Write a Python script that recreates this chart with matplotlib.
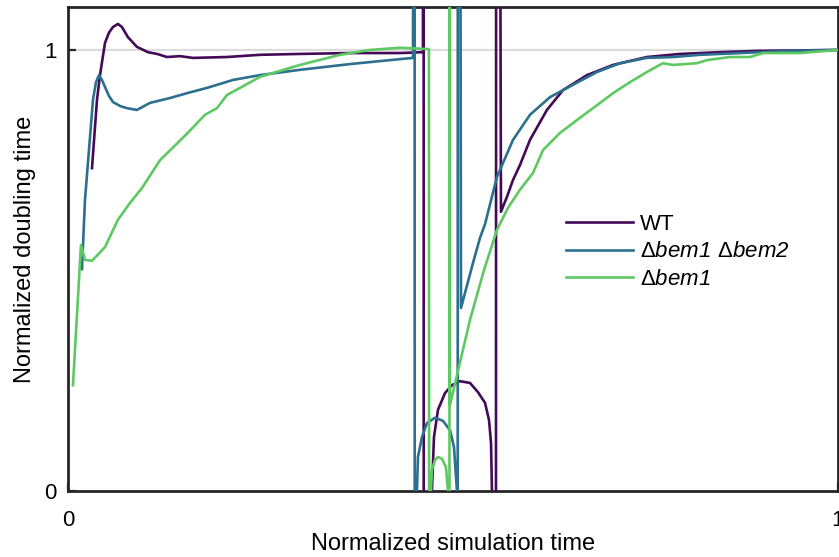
import numpy as np
import matplotlib.pyplot as plt

plt.rcParams['font.family'] = ['Liberation Sans', 'DejaVu Sans']
plt.rcParams['mathtext.fontset'] = 'custom'
plt.rcParams['mathtext.rm'] = 'Liberation Sans'
plt.rcParams['mathtext.sf'] = 'Liberation Sans:italic'

# values; +/-5 marks a jump through the asymptote
wt_x = [0.0312, 0.0377, 0.0416, 0.0481, 0.0532, 0.0584, 0.0649, 0.0701, 0.0779, 0.0896,
        0.1039, 0.1156, 0.1286, 0.1455, 0.1623, 0.2065, 0.2494, 0.3013, 0.3662, 0.4312,
        0.4610, 0.4617, 0.4623, 0.4727, 0.4753, 0.4805, 0.4896, 0.4987, 0.5091, 0.5221,
        0.5325, 0.5416, 0.5468, 0.5494, 0.5506, 0.5552, 0.5565, 0.5623, 0.5701, 0.5779,
        0.5870, 0.6000, 0.6220, 0.6429, 0.6740, 0.7078, 0.7519, 0.7948, 0.8468, 0.8987,
        1.0]
wt_y = [0.732, 0.887, 0.943, 1.016, 1.039, 1.052, 1.059, 1.052, 1.029, 1.007,
        0.995, 0.991, 0.984, 0.986, 0.982, 0.984, 0.989, 0.991, 0.993, 0.993,
        0.995, 5, -5, 0.0, 0.122, 0.184, 0.222, 0.240, 0.249, 0.245,
        0.224, 0.200, 0.161, 0.109, 0.0, -5, 5, 0.633, 0.667, 0.705,
        0.739, 0.796, 0.864, 0.909, 0.943, 0.966, 0.984, 0.991, 0.995, 0.998,
        1.0]

bem12_x = [0.0182, 0.0221, 0.0325, 0.0364, 0.0403, 0.0442, 0.0481, 0.0532, 0.0584, 0.0675,
           0.0766, 0.0896, 0.1065, 0.1325, 0.1545, 0.1805, 0.2143, 0.2494, 0.3013, 0.3662,
           0.4182, 0.4481, 0.4500, 0.4506, 0.4532, 0.4545, 0.4597, 0.4662, 0.4766, 0.4870,
           0.4961, 0.5013, 0.5052, 0.5058, 0.5065, 0.5104, 0.5260, 0.5351, 0.5416, 0.5571,
           0.5779, 0.6000, 0.6260, 0.6558, 0.6870, 0.7169, 0.7519, 0.7857, 0.8208, 0.8727,
           0.9377, 1.0]
bem12_y = [0.503, 0.660, 0.887, 0.927, 0.943, 0.932, 0.916, 0.896, 0.882, 0.873,
           0.868, 0.864, 0.880, 0.891, 0.902, 0.914, 0.932, 0.943, 0.955, 0.968,
           0.977, 0.982, 5, -5, 0.0, 0.077, 0.122, 0.154, 0.166, 0.159,
           0.138, 0.100, 0.0, -5, 5, 0.415, 0.517, 0.574, 0.605, 0.712,
           0.796, 0.853, 0.893, 0.921, 0.950, 0.970, 0.982, 0.984, 0.989, 0.993,
           0.998, 1.0]

bem1_x = [0.0065, 0.0169, 0.0221, 0.0312, 0.0481, 0.0649, 0.0805, 0.0961, 0.1195, 0.1545,
          0.1779, 0.1935, 0.2065, 0.2234, 0.2494, 0.3013, 0.3532, 0.3922, 0.4312, 0.4688,
          0.4701, 0.4714, 0.4727, 0.4766, 0.4805, 0.4857, 0.4909, 0.4935, 0.4952, 0.4957,
          0.4961, 0.5221, 0.5403, 0.5571, 0.5714, 0.5870, 0.6039, 0.6169, 0.6390, 0.6610,
          0.6818, 0.7078, 0.7299, 0.7519, 0.7727, 0.7857, 0.8169, 0.8299, 0.8597, 0.8857,
          0.9026, 0.9506, 1.0]
bem1_y = [0.240, 0.558, 0.524, 0.522, 0.553, 0.615, 0.653, 0.687, 0.750, 0.810,
          0.853, 0.868, 0.898, 0.914, 0.939, 0.966, 0.989, 1.000, 1.005, 1.002,
          -5, 0.0, 0.048, 0.070, 0.077, 0.073, 0.054, 0.0, -5, 5,
          0.195, 0.388, 0.501, 0.592, 0.642, 0.683, 0.721, 0.773, 0.812, 0.841,
          0.868, 0.902, 0.927, 0.950, 0.970, 0.966, 0.970, 0.977, 0.984, 0.984,
          0.993, 0.993, 1.0]

c_wt = '#440a57'
c_bem12 = '#2c6f8f'
c_bem1 = '#5ec962'

fig = plt.figure(figsize=(8.39, 5.57), dpi=100)
ax = fig.add_axes([0.081, 0.1185, 0.9178, 0.869])

ax.axhline(1, color='#dcdcdc', lw=1.6, zorder=1)
ax.plot(wt_x, wt_y, color=c_wt, lw=1.9, label='WT', zorder=3)
ax.plot(bem12_x, bem12_y, color=c_bem12, lw=1.9,
        label=r'$\Delta\mathsf{bem1}\ \Delta\mathsf{bem2}$', zorder=3)
ax.plot(bem1_x, bem1_y, color=c_bem1, lw=1.9,
        label=r'$\Delta\mathsf{bem1}$', zorder=3)

ax.set_xlim(0, 1)
ax.set_ylim(0, 1.0975)
ax.set_xticks([0, 1])
ax.set_yticks([0, 1])
ax.set_xticklabels(['0', '1'])
ax.set_yticklabels(['0', '1'])
ax.tick_params(direction='in', length=6, width=1.6, labelsize=16,
               color='#262626')
ax.tick_params(axis='y', pad=8)
ax.tick_params(axis='x', pad=14)
for s in ax.spines.values():
    s.set_linewidth(2.0)
    s.set_color('#262626')

ax.set_xlabel('Normalized simulation time', fontsize=17, labelpad=1)
ax.set_ylabel('Normalized doubling time', fontsize=17, labelpad=6)

ax.legend(loc='upper left', bbox_to_anchor=(0.647, 0.573), frameon=False,
          fontsize=16, handlelength=3.0, handletextpad=0.3, labelspacing=0.3,
          borderpad=0, borderaxespad=0)

plt.savefig('out.png', dpi=100)
